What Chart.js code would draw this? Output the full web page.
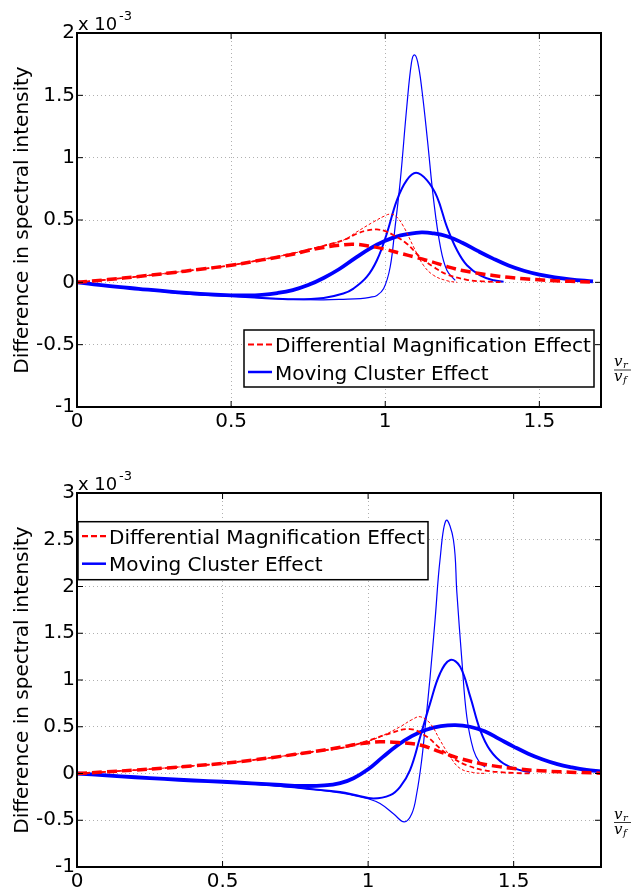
<!DOCTYPE html>
<html>
<head>
<meta charset="utf-8">
<script src="https://cdn.jsdelivr.net/npm/chart.js@4.4.0/dist/chart.umd.min.js"></script>
<style>
  body { margin: 0; background: #fff; }
  .panel { position: absolute; left: 0; width: 632px; height: 446px; }
</style>
</head>
<body>
<div class="panel" style="top:0"><canvas id="topChart" width="632" height="446"></canvas></div>
<div class="panel" style="top:446px"><canvas id="bottomChart" width="632" height="446"></canvas></div>
<script>
// values are in units of 1e-3
const topXTicks = [0, 0.5, 1, 1.5];
const topYTicks = [-1, -0.5, 0, 0.5, 1, 1.5, 2];
const botXTicks = [0, 0.5, 1, 1.5];
const botYTicks = [-1, -0.5, 0, 0.5, 1, 1.5, 2, 2.5, 3];

const legendLabels = ['Differential Magnification Effect', 'Moving Cluster Effect'];

// top panel
const topRedThickX = [0, 0.1, 0.2, 0.3, 0.4, 0.5, 0.6, 0.7, 0.75, 0.8, 0.85, 0.9, 0.95, 1.0, 1.05, 1.1, 1.15, 1.2, 1.25, 1.3, 1.35, 1.4, 1.45, 1.5, 1.55, 1.6, 1.674];
const topRedThickY = [0, 0.022, 0.047, 0.075, 0.105, 0.137, 0.18, 0.225, 0.255, 0.28, 0.298, 0.305, 0.29, 0.265, 0.232, 0.2, 0.165, 0.127, 0.095, 0.073, 0.055, 0.04, 0.029, 0.02, 0.013, 0.008, 0.003];
const topRedMidX = [0, 0.1, 0.2, 0.3, 0.4, 0.5, 0.6, 0.7, 0.75, 0.8, 0.864, 0.908, 0.94, 0.973, 1.0, 1.027, 1.07, 1.114, 1.157, 1.2, 1.265, 1.32, 1.384];
const topRedMidY = [0, 0.022, 0.047, 0.075, 0.105, 0.137, 0.182, 0.232, 0.262, 0.293, 0.338, 0.39, 0.415, 0.424, 0.41, 0.378, 0.31, 0.2, 0.123, 0.064, 0.02, 0.007, 0];
const topRedThinX = [0, 0.1, 0.2, 0.3, 0.4, 0.5, 0.6, 0.7, 0.8, 0.864, 0.908, 0.962, 1.0, 1.016, 1.035, 1.06, 1.092, 1.124, 1.157, 1.2, 1.233];
const topRedThinY = [0, 0.022, 0.047, 0.075, 0.105, 0.137, 0.182, 0.232, 0.295, 0.338, 0.405, 0.485, 0.535, 0.547, 0.53, 0.445, 0.284, 0.137, 0.056, 0.013, 0];
const topBlueThickX = [0, 0.1, 0.2, 0.3, 0.4, 0.5, 0.55, 0.6, 0.65, 0.7, 0.75, 0.8, 0.85, 0.9, 0.95, 1.0, 1.05, 1.1, 1.12, 1.15, 1.2, 1.25, 1.3, 1.35, 1.4, 1.45, 1.5, 1.55, 1.6, 1.674];
const topBlueThickY = [0, -0.028, -0.052, -0.075, -0.093, -0.104, -0.105, -0.1, -0.086, -0.062, -0.022, 0.035, 0.105, 0.19, 0.27, 0.333, 0.376, 0.397, 0.4, 0.395, 0.37, 0.318, 0.252, 0.19, 0.135, 0.093, 0.062, 0.04, 0.024, 0.008];
const topBlueMidX = [0, 0.1, 0.2, 0.3, 0.4, 0.5, 0.6, 0.7, 0.8, 0.864, 0.897, 0.94, 0.973, 1.005, 1.038, 1.07, 1.1, 1.135, 1.168, 1.2, 1.233, 1.265, 1.308, 1.352, 1.384];
const topBlueMidY = [0, -0.028, -0.053, -0.078, -0.098, -0.11, -0.125, -0.135, -0.125, -0.09, -0.05, 0.043, 0.177, 0.39, 0.66, 0.82, 0.879, 0.82, 0.686, 0.445, 0.257, 0.137, 0.056, 0.016, 0.005];
const topBlueThinX = [0, 0.1, 0.2, 0.3, 0.4, 0.5, 0.6, 0.7, 0.8, 0.864, 0.92, 0.95, 0.973, 0.995, 1.016, 1.032, 1.049, 1.07, 1.085, 1.094, 1.105, 1.119, 1.137, 1.157, 1.179, 1.2, 1.227];
const topBlueThinY = [0, -0.028, -0.053, -0.078, -0.098, -0.11, -0.125, -0.137, -0.14, -0.136, -0.13, -0.12, -0.105, -0.05, 0.123, 0.445, 0.82, 1.41, 1.76, 1.825, 1.77, 1.543, 1.14, 0.66, 0.284, 0.096, 0.016];

// bottom panel
const botRedThickX = [0, 0.1, 0.2, 0.3, 0.4, 0.5, 0.6, 0.7, 0.8, 0.9, 0.973, 1.041, 1.11, 1.179, 1.247, 1.316, 1.385, 1.454, 1.522, 1.591, 1.66, 1.73, 1.8];
const botRedThickY = [0, 0.018, 0.037, 0.058, 0.082, 0.107, 0.143, 0.183, 0.228, 0.277, 0.318, 0.339, 0.33, 0.304, 0.232, 0.16, 0.107, 0.071, 0.046, 0.03, 0.018, 0.01, 0.004];
const botRedMidX = [0, 0.1, 0.2, 0.3, 0.4, 0.5, 0.6, 0.7, 0.8, 0.904, 0.938, 1.007, 1.076, 1.144, 1.202, 1.247, 1.293, 1.339, 1.396, 1.454, 1.5, 1.557];
const botRedMidY = [0, 0.018, 0.037, 0.058, 0.082, 0.107, 0.143, 0.183, 0.228, 0.272, 0.293, 0.357, 0.43, 0.475, 0.393, 0.268, 0.16, 0.089, 0.036, 0.014, 0.006, 0];
const botRedThinX = [0, 0.1, 0.2, 0.3, 0.4, 0.5, 0.6, 0.7, 0.8, 0.904, 0.973, 1.041, 1.11, 1.15, 1.179, 1.213, 1.247, 1.282, 1.316, 1.362, 1.404];
const botRedThinY = [0, 0.018, 0.037, 0.058, 0.082, 0.107, 0.143, 0.183, 0.228, 0.268, 0.32, 0.393, 0.5, 0.575, 0.607, 0.536, 0.357, 0.178, 0.054, 0.01, 0];
const botBlueThickX = [0, 0.1, 0.2, 0.3, 0.4, 0.5, 0.6, 0.7, 0.77, 0.85, 0.904, 0.95, 1.0, 1.05, 1.1, 1.15, 1.2, 1.25, 1.3, 1.35, 1.4, 1.45, 1.5, 1.55, 1.6, 1.65, 1.7, 1.75, 1.8];
const botBlueThickY = [0, -0.02, -0.04, -0.058, -0.075, -0.088, -0.105, -0.123, -0.133, -0.128, -0.103, -0.05, 0.045, 0.175, 0.3, 0.4, 0.468, 0.506, 0.518, 0.5, 0.452, 0.37, 0.288, 0.212, 0.15, 0.1, 0.065, 0.038, 0.022];
const botBlueMidX = [0, 0.1, 0.2, 0.3, 0.4, 0.5, 0.6, 0.7, 0.8, 0.904, 0.96, 1.018, 1.076, 1.11, 1.144, 1.179, 1.213, 1.247, 1.282, 1.316, 1.351, 1.385, 1.419, 1.465, 1.522, 1.557];
const botBlueMidY = [0, -0.02, -0.04, -0.058, -0.075, -0.09, -0.11, -0.135, -0.165, -0.198, -0.232, -0.268, -0.232, -0.143, 0.036, 0.393, 0.75, 1.07, 1.214, 1.143, 0.82, 0.464, 0.25, 0.107, 0.036, 0.015];
const botBlueThinX = [0, 0.1, 0.2, 0.3, 0.4, 0.5, 0.6, 0.7, 0.8, 0.904, 0.95, 1.0, 1.041, 1.087, 1.124, 1.15, 1.167, 1.184, 1.196, 1.213, 1.23, 1.247, 1.268, 1.293, 1.305, 1.322, 1.339, 1.362, 1.385, 1.402];
const botBlueThinY = [0, -0.02, -0.04, -0.058, -0.075, -0.09, -0.11, -0.135, -0.165, -0.207, -0.235, -0.27, -0.32, -0.43, -0.518, -0.43, -0.214, 0.143, 0.5, 1.035, 1.643, 2.286, 2.707, 2.5, 1.93, 1.214, 0.607, 0.25, 0.107, 0.07];

const RED = '#ff0000';
const BLUE = '#0000ff';
const FONT = '"DejaVu Sans", sans-serif';

Chart.defaults.font.family = FONT;
Chart.defaults.font.size = 20;
Chart.defaults.color = '#000';

function pts(xs, ys) {
    return xs.map((x, i) => ({ x: x, y: ys[i] }));
}

function line(xs, ys, color, width, dash) {
    return {
        data: pts(xs, ys),
        borderColor: color,
        borderWidth: width,
        borderDash: dash || [],
        showLine: true,
        pointRadius: 0,
        fill: false,
        tension: 0.4
    };
}

// frame, inward ticks, exponent, y title, legend and v_r/v_f label
const decor = {
    id: 'decor',
    afterDraw(chart, args, opts) {
        const { ctx, chartArea: a, scales } = chart;
        const seg = (x1, y1, x2, y2) => { ctx.beginPath(); ctx.moveTo(x1, y1); ctx.lineTo(x2, y2); ctx.stroke(); };
        ctx.save();
        ctx.strokeStyle = '#000';
        ctx.lineWidth = 1;
        scales.x.ticks.forEach(t => {
            const p = scales.x.getPixelForValue(t.value);
            seg(p, a.bottom, p, a.bottom - 6);
            seg(p, a.top, p, a.top + 6);
        });
        scales.y.ticks.forEach(t => {
            const p = scales.y.getPixelForValue(t.value);
            seg(a.left, p, a.left + 6, p);
            seg(a.right, p, a.right - 6, p);
        });
        ctx.lineWidth = 2;
        ctx.strokeRect(a.left, a.top, a.right - a.left, a.bottom - a.top);

        ctx.fillStyle = '#000';
        ctx.textAlign = 'left';
        ctx.textBaseline = 'alphabetic';
        ctx.font = '18px ' + FONT;
        ctx.fillText('x 10', a.left + 1, a.top - 3.5);
        ctx.font = '13px ' + FONT;
        ctx.fillText('-3', a.left + 42, a.top - 13);

        // y axis title
        ctx.save();
        ctx.translate(27.5, (a.top + a.bottom) / 2);
        ctx.rotate(-Math.PI / 2);
        ctx.textAlign = 'center';
        ctx.font = '20px ' + FONT;
        ctx.fillText('Difference in spectral intensity', 0, 0);
        ctx.restore();

        // legend
        const L = opts.legend;
        ctx.fillStyle = '#fff';
        ctx.fillRect(L.x, L.y, L.w, L.h);
        ctx.lineWidth = 1.5;
        ctx.strokeStyle = '#000';
        ctx.strokeRect(L.x, L.y, L.w, L.h);
        ctx.lineWidth = 2.2;
        ctx.strokeStyle = RED;
        ctx.setLineDash([6, 3]);
        seg(L.x + 4, L.y + 14.5, L.x + 28, L.y + 14.5);
        ctx.setLineDash([]);
        ctx.strokeStyle = BLUE;
        ctx.lineWidth = 2.5;
        seg(L.x + 4, L.y + 42, L.x + 28, L.y + 42);
        ctx.fillStyle = '#000';
        ctx.font = '20px ' + FONT;
        ctx.fillText(legendLabels[0], L.x + 31, L.y + 22);
        ctx.fillText(legendLabels[1], L.x + 31, L.y + 49.5);

        // v_r / v_f
        const fy = opts.fracY;
        ctx.font = 'italic 15px "DejaVu Serif", serif';
        ctx.fillText('v', 614, fy - 4);
        ctx.fillText('v', 614, fy + 11);
        ctx.font = 'italic 10px "DejaVu Serif", serif';
        ctx.fillText('r', 623, fy - 2);
        ctx.fillText('f', 623, fy + 13);
        ctx.lineWidth = 0.8;
        ctx.strokeStyle = '#000';
        seg(614, fy, 631, fy);
        ctx.restore();
    }
};

function makeChart(id, sets, xMax, xTicks, yMin, yMax, yTicks, padTop, xAxisH, legendBox, fracY) {
    return new Chart(document.getElementById(id), {
        type: 'scatter',
        data: { datasets: sets },
        plugins: [decor],
        options: {
            responsive: false,
            animation: false,
            layout: { padding: { top: padTop, right: 31, left: 0, bottom: 0 } },
            plugins: {
                legend: { display: false },
                tooltip: { enabled: false },
                decor: { legend: legendBox, fracY: fracY }
            },
            scales: {
                x: {
                    type: 'linear',
                    min: 0,
                    max: xMax,
                    afterBuildTicks: s => { s.ticks = xTicks.map(v => ({ value: v })); },
                    afterFit: s => { s.height = xAxisH; },
                    ticks: { autoSkip: false, maxRotation: 0, padding: 3, callback: v => String(v) },
                    grid: { color: '#b0b0b0', lineWidth: 1, drawTicks: false },
                    border: { display: false, dash: [1, 3] }
                },
                y: {
                    min: yMin,
                    max: yMax,
                    afterBuildTicks: s => { s.ticks = yTicks.map(v => ({ value: v })); },
                    afterFit: s => { s.width = 77; },
                    ticks: { autoSkip: false, padding: 2, callback: v => String(v) },
                    grid: { color: '#b0b0b0', lineWidth: 1, drawTicks: false },
                    border: { display: false, dash: [1, 3] }
                }
            }
        }
    });
}

makeChart('topChart', [
    line(topRedThinX, topRedThinY, RED, 1, [3, 2]),
    line(topRedMidX, topRedMidY, RED, 1.8, [5, 3]),
    line(topRedThickX, topRedThickY, RED, 3.5, [10, 5]),
    line(topBlueThinX, topBlueThinY, BLUE, 1.2),
    line(topBlueMidX, topBlueMidY, BLUE, 2),
    line(topBlueThickX, topBlueThickY, BLUE, 3.8)
], 1.7, topXTicks, -1, 2, topYTicks, 33, 39, { x: 244, y: 330, w: 350, h: 57 }, 370);

makeChart('bottomChart', [
    line(botRedThinX, botRedThinY, RED, 1, [3, 2]),
    line(botRedMidX, botRedMidY, RED, 1.8, [5, 3]),
    line(botRedThickX, botRedThickY, RED, 3.5, [10, 5]),
    line(botBlueThinX, botBlueThinY, BLUE, 1.2),
    line(botBlueMidX, botBlueMidY, BLUE, 2),
    line(botBlueThickX, botBlueThickY, BLUE, 3.8)
], 1.8, botXTicks, -1, 3, botYTicks, 47, 25, { x: 78, y: 75.7, w: 350, h: 58 }, 376.5);
</script>
</body>
</html>
